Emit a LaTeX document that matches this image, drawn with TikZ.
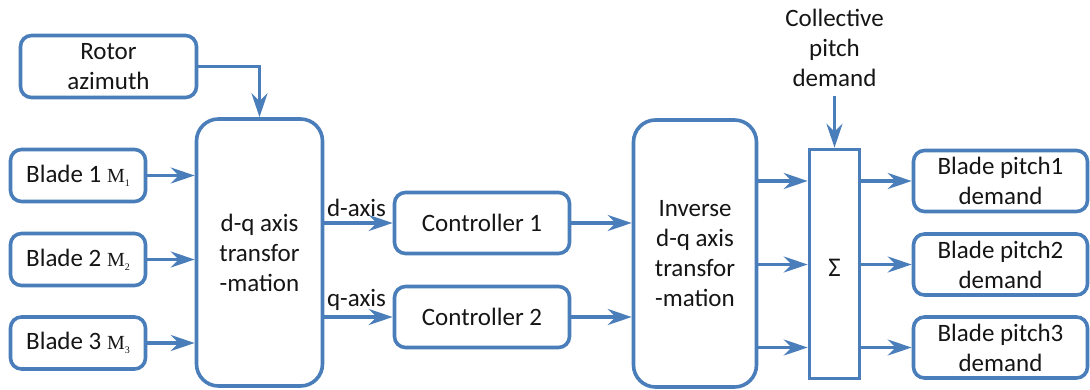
\documentclass[tikz,border=0pt]{standalone}
\usepackage{fontspec}
\setmainfont{Carlito}
\newfontfamily\tnr{Liberation Serif}
\usetikzlibrary{arrows.meta}
\definecolor{lblue}{HTML}{4A7EBB}
\definecolor{txt}{HTML}{151515}
\newcommand{\Msub}[1]{{\tnr\fontsize{20}{20}\selectfont M\raisebox{-4pt}{\fontsize{10}{10}\selectfont #1}}}
\tikzset{
  blk/.style={draw=lblue, line width=3.6pt, rounded corners=11pt, text=txt, align=center,
    inner sep=0pt, font=\fontsize{25}{30}\selectfont},
  bigblk/.style={blk, rounded corners=22pt},
  sumblk/.style={draw=lblue, line width=3.6pt, inner sep=0pt},
  arr/.style={draw=lblue, line width=3.6pt, -{Stealth[length=24pt,width=16pt,inset=8pt]}},
  lbl/.style={text=txt, font=\fontsize{25}{30}\selectfont, align=center, inner sep=0pt}
}
\begin{document}
\begin{tikzpicture}[x=1pt,y=-1pt]
\useasboundingbox (0,0) rectangle (1090,389);
% blocks
\node[blk, minimum width=176pt, minimum height=62pt] (rot) at (108.5,66.5) {Rotor\\azimuth};
\node[blk, minimum width=135pt, minimum height=52pt] (b1) at (78,175.5) {Blade 1 \Msub{1}};
\node[blk, minimum width=135pt, minimum height=52pt] (b2) at (78,259.5) {Blade 2 \Msub{2}};
\node[blk, minimum width=135pt, minimum height=52pt] (b3) at (78,343) {Blade 3 \Msub{3}};
\node[bigblk, minimum width=126pt, minimum height=267pt] (dq) at (259.5,252.5) {d-q axis\\transfor\\-mation};
\node[blk, minimum width=175pt, minimum height=61pt] (c1) at (482,223) {Controller 1};
\node[blk, minimum width=175pt, minimum height=61pt] (c2) at (482,317) {Controller 2};
\node[bigblk, minimum width=123pt, minimum height=267pt] (inv) at (695,253.5) {Inverse\\d-q axis\\transfor\\-mation};
\node[sumblk, minimum width=50pt, minimum height=229pt] (sum) at (834.5,264) {};
\node[lbl, font=\fontsize{27}{30}\selectfont] (sig) at (834.5,268) {Σ};
\node[blk, minimum width=174pt, minimum height=61pt] (p1) at (1000.5,181) {Blade pitch1\\demand};
\node[blk, minimum width=174pt, minimum height=61pt] (p2) at (1000.5,264.5) {Blade pitch2\\demand};
\node[blk, minimum width=174pt, minimum height=61pt] (p3) at (1000.5,347.5) {Blade pitch3\\demand};
\node[lbl, minimum height=96pt, anchor=north] (col) at (834.5,0) {Collective\\pitch\\demand};
% connectors
\draw[arr] (rot.east) -| (dq.north);
\draw[arr] (b1.east) -- (b1.east -| dq.west);
\draw[arr] (b2.east) -- (b2.east -| dq.west);
\draw[arr] (b3.east) -- (b3.east -| dq.west);
\draw[arr] (dq.east |- c1.west) -- node[lbl, pos=0.47, above=5pt] {d-axis} (c1.west);
\draw[arr] (dq.east |- c2.west) -- node[lbl, pos=0.47, above=5pt] {q-axis} (c2.west);
\draw[arr] (c1.east) -- (c1.east -| inv.west);
\draw[arr] (c2.east) -- (c2.east -| inv.west);
\draw[arr] (inv.east |- p1.west) -- (sum.west |- p1.west);
\draw[arr] (inv.east |- p2.west) -- (sum.west |- p2.west);
\draw[arr] (inv.east |- p3.west) -- (sum.west |- p3.west);
\draw[arr] (sum.east |- p1.west) -- (p1.west);
\draw[arr] (sum.east |- p2.west) -- (p2.west);
\draw[arr] (sum.east |- p3.west) -- (p3.west);
\draw[arr] (col.south) -- (sum.north);
\end{tikzpicture}
\end{document}
